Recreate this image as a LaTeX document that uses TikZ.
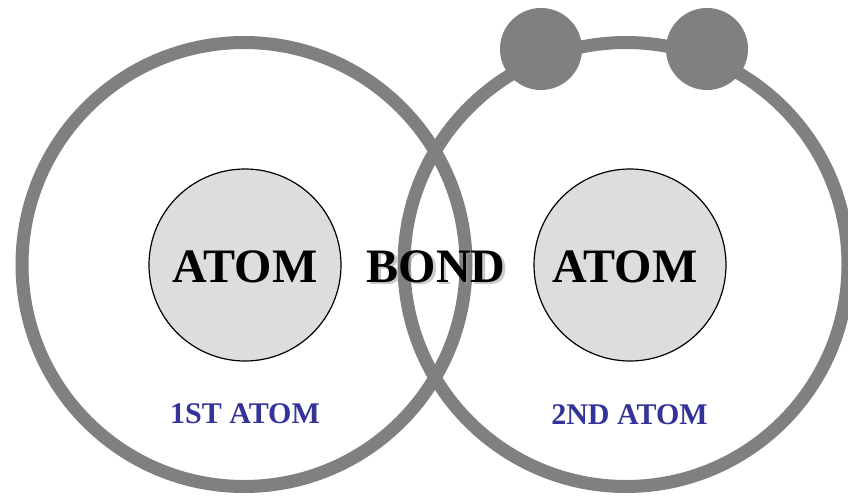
\documentclass[tikz,border=0pt]{standalone}
\usepackage{fontspec}
\setmainfont{Liberation Serif}
\definecolor{ring}{HTML}{808080}
\definecolor{core}{HTML}{DDDDDD}
\definecolor{lbl}{HTML}{333399}
\begin{document}
\begin{tikzpicture}[x=1pt,y=-1pt,
  shell/.style={circle,draw=ring,line width=13pt,minimum size=444pt,inner sep=0pt},
  nucleus/.style={circle,draw=black,line width=1.2pt,fill=core,minimum size=192pt,inner sep=0pt},
  electron/.style={circle,fill=ring,minimum size=82pt,inner sep=0pt},
  bigtext/.style={font=\fontsize{48}{48}\selectfont\bfseries,inner sep=0pt,anchor=base},
  atomlabel/.style={font=\fontsize{30}{30}\selectfont\bfseries,text=lbl,inner sep=0pt,anchor=base}]
\useasboundingbox (0,0) rectangle (848,495);
\fill[white] (0,0) rectangle (848,495);
\node[shell] (s1) at (244,264.5) {};
\node[shell] (s2) at (626,264.5) {};
\node[electron] (e1) at (541,49) {};
\node[electron] (e2) at (707,49) {};
\node[nucleus] (n1) at (245,265) {};
\node[nucleus] (n2) at (630,265) {};
\node[bigtext] (t1) at (n1.center |- 0,282) {ATOM};
\node[bigtext] (t2) at (625,282) {ATOM};
\node[bigtext,text=black!40,opacity=0.5] (bs) at (438.5,284) {BOND};
\node[bigtext] (b) at (436,282) {BOND};
\node[atomlabel] (l1) at (245,423) {1ST ATOM};
\node[atomlabel] (l2) at (629.5,424) {2ND ATOM};
\end{tikzpicture}
\end{document}
